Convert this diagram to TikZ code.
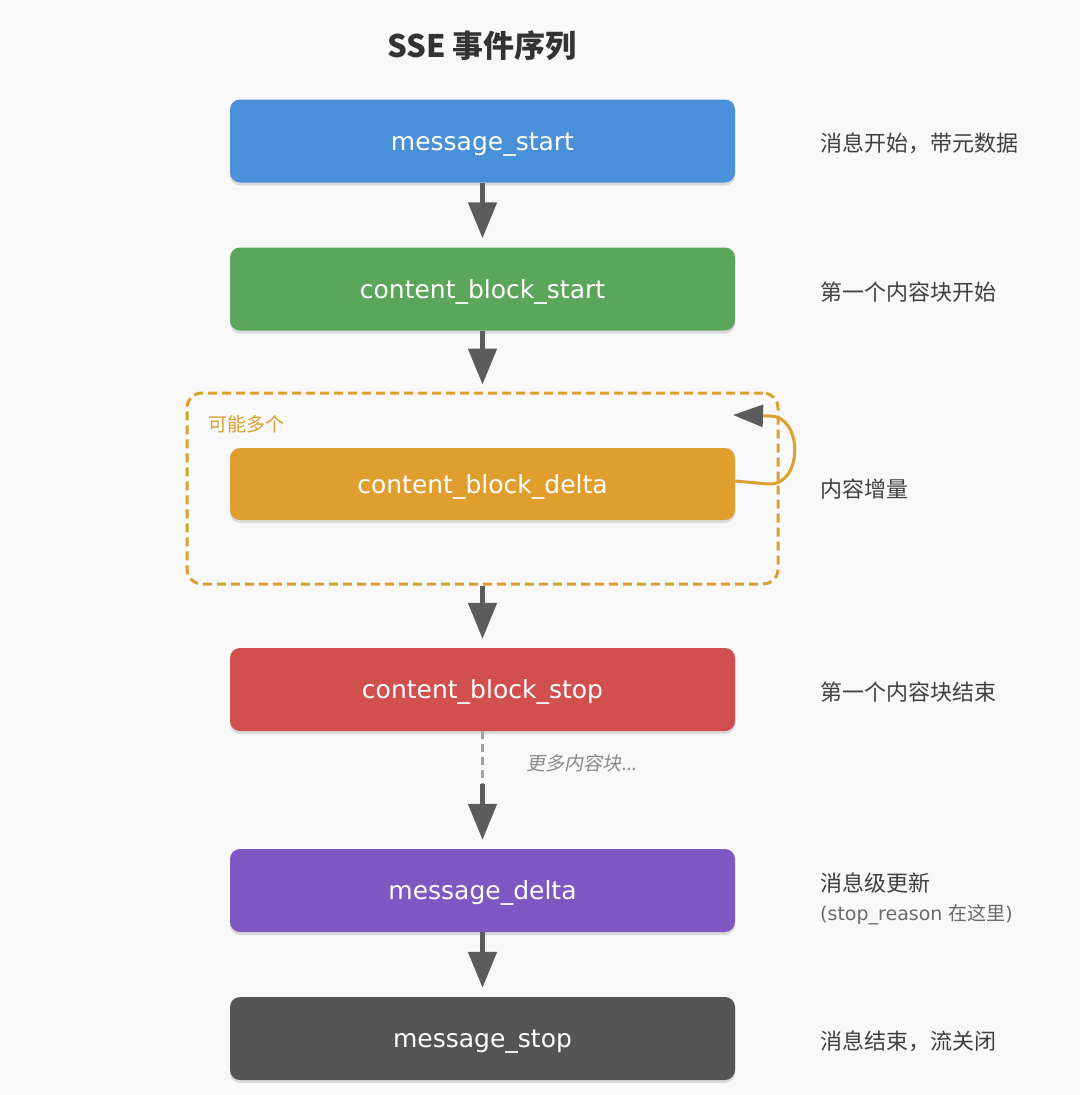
\documentclass[tikz,border=0pt]{standalone}
\usepackage{fontspec}
\setmainfont{DejaVu Sans}
\newfontfamily\cjk{Noto Sans CJK SC}
\newfontfamily\cjkit{Noto Sans CJK SC}[FakeSlant=0.2]
\usepackage{xcolor}
\usepackage{tikz}
\usetikzlibrary{arrows.meta,positioning,shadows}
\definecolor{bgcol}{HTML}{F8F8F8}
\definecolor{blueev}{HTML}{4A90D9}
\definecolor{greenev}{HTML}{5BA65B}
\definecolor{orangeev}{HTML}{E09E2F}
\definecolor{redev}{HTML}{D14F4F}
\definecolor{purpleev}{HTML}{7E57C2}
\definecolor{darkev}{HTML}{555555}
\definecolor{grpcol}{HTML}{D9A030}
\definecolor{arrowcol}{HTML}{5C5C5C}
\definecolor{notecol}{HTML}{404040}
\definecolor{subcol}{HTML}{6A6A6A}
\definecolor{morecol}{HTML}{8A8A8A}

\begin{document}
\begin{tikzpicture}[x=1pt,y=-1pt,
  evbox/.style={rounded corners=10pt,minimum width=505pt,minimum height=83pt,inner sep=0pt,
    text height=20pt,text depth=2pt,
    text=white,font=\fontsize{25}{30}\selectfont,
    drop shadow={shadow xshift=0pt,shadow yshift=-3pt,opacity=.12,fill=black}},
  flow/.style={draw=arrowcol,line width=5pt,-{Triangle[length=36pt,width=28pt]},shorten >=9pt},
  dashflow/.style={draw=morecol!80,line width=3pt,dash pattern=on 8pt off 5pt},
  loopline/.style={draw=grpcol,line width=3pt,rounded corners=2pt,
    -{Triangle[length=30pt,width=22pt,color=arrowcol]}},
  group/.style={draw=grpcol,line width=3pt,dash pattern=on 9pt off 5pt,rounded corners=15pt,
    minimum width=591pt,minimum height=191pt},
  note/.style={anchor=west,inner sep=0pt,text=notecol,font=\cjk\fontsize{22}{26}\selectfont}]
\fill[bgcol] (0,0) rectangle (1080,1095);
\useasboundingbox (0,0) rectangle (1080,1095);

\node[text=notecol!80!black,font=\cjk\bfseries\fontsize{31}{36}\selectfont] (title) at (482,46) {SSE 事件序列};

% event boxes
\node[evbox,fill=blueev] (start) at (482.5,141) {message\_start};
\node[evbox,fill=greenev] (cstart) at (482.5,289) {content\_block\_start};
\node[group] (grp) at (482.5,488.5) {};
\node[anchor=west,inner sep=0pt,text=grpcol,font=\cjk\fontsize{19}{22}\selectfont] (many) at (208,424) {可能多个};
\node[evbox,fill=orangeev,minimum height=72pt] (cdelta) at (482.5,484) {content\_block\_delta};
\node[evbox,fill=redev] (cstop) at (482.5,689.5) {content\_block\_stop};
\node[evbox,fill=purpleev] (mdelta) at (482.5,890.5) {message\_delta};
\node[evbox,fill=darkev] (mstop) at (482.5,1038.5) {message\_stop};

% notes on the right
\node[note] (n1) at (820,143) {消息开始，带元数据};
\node[note] (n2) at (820,292) {第一个内容块开始};
\node[note] (n3) at (820,489) {内容增量};
\node[note] (n4) at (820,692) {第一个内容块结束};
\node[note] (n5) at (820,883) {消息级更新};
\node[anchor=west,inner sep=0pt,text=subcol,font=\fontsize{19}{23}\selectfont] (n5b) at (820,915) {(stop\_reason {\cjk 在这里})};
\node[note] (n6) at (820,1041) {消息结束，流关闭};

% connectors
\coordinate (gap) at (482.5,784);
\coordinate (looptip) at (733,415);
\draw[flow] (start) -- (cstart);
\draw[flow,shorten >=7pt] (cstart) -- (grp);
\draw[flow] (grp) -- (cstop);
\draw[dashflow] (cstop) -- (gap);
\draw[flow] (gap) -- (mdelta);
\draw[flow] (mdelta) -- (mstop);
\draw[loopline] ([yshift=3pt]cdelta.east) -- (768,484) .. controls (803,484) and (803,416) .. (768,416) -- (looptip);
\node[anchor=west,inner sep=0pt,text=morecol,font=\cjkit\fontsize{19}{22}\selectfont] (more) at (526,763) {更多内容块...};
\end{tikzpicture}
\end{document}
